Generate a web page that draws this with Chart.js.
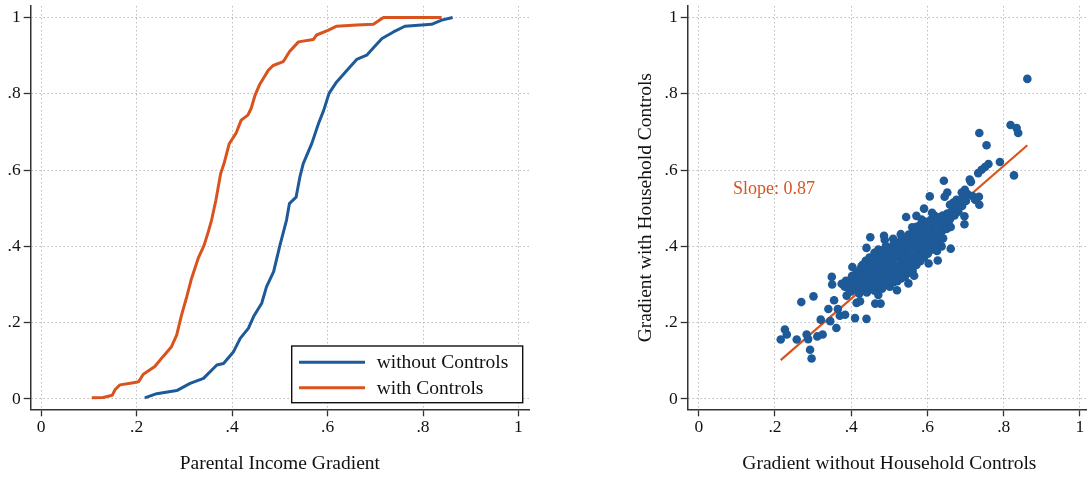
<!DOCTYPE html>
<html>
<head>
<meta charset="utf-8">
<script src="https://cdn.jsdelivr.net/npm/chart.js@4.4.1/dist/chart.umd.min.js"></script>
<style>
  html, body { margin: 0; padding: 0; background: #fff; overflow: hidden; width: 1087px; height: 478px; }
  canvas { position: absolute; top: 0; }
  #cdfChart { left: 0; width: 545px; height: 478px; }
  #scatterChart { left: 600px; width: 500px; height: 478px; }
</style>
</head>
<body>
<canvas id="cdfChart" width="545" height="478"></canvas>
<canvas id="scatterChart" width="500" height="478"></canvas>
<script>
// ---- data ----
const tickValues = [0, 0.2, 0.4, 0.6, 0.8, 1];
const tickLabels = ['0', '.2', '.4', '.6', '.8', '1'];

// cumulative distribution of the gradient, without household controls
const cdfWithoutX = [0.217, 0.242, 0.284, 0.312, 0.340, 0.368, 0.382, 0.403, 0.417, 0.434, 0.445, 0.462, 0.472, 0.487, 0.500,
  0.514, 0.520, 0.534, 0.542, 0.549, 0.567, 0.581, 0.592, 0.603, 0.619, 0.644, 0.661, 0.682, 0.698, 0.714, 0.738, 0.762, 0.818,
  0.839, 0.862];
const cdfWithoutY = [0.003, 0.014, 0.022, 0.041, 0.054, 0.089, 0.093, 0.124, 0.159, 0.185, 0.216, 0.251, 0.294, 0.334, 0.402,
  0.469, 0.512, 0.529, 0.582, 0.617, 0.670, 0.722, 0.757, 0.801, 0.831, 0.866, 0.890, 0.901, 0.923, 0.945, 0.962, 0.977, 0.982,
  0.993, 1.000];

// cumulative distribution of the gradient, with household controls
const cdfWithX = [0.106, 0.130, 0.149, 0.155, 0.165, 0.190, 0.204, 0.214, 0.238, 0.255, 0.273, 0.284, 0.294, 0.305, 0.315, 0.329,
  0.341, 0.350, 0.357, 0.366, 0.376, 0.383, 0.394, 0.408, 0.419, 0.433, 0.440, 0.448, 0.458, 0.476, 0.486, 0.507, 0.520, 0.539,
  0.570, 0.577, 0.602, 0.619, 0.661, 0.696, 0.717, 0.839];
const cdfWithY = [0.003, 0.004, 0.010, 0.025, 0.037, 0.042, 0.045, 0.065, 0.085, 0.111, 0.137, 0.168, 0.220, 0.268, 0.316, 0.369,
  0.402, 0.438, 0.469, 0.521, 0.591, 0.617, 0.669, 0.696, 0.731, 0.744, 0.762, 0.796, 0.825, 0.862, 0.874, 0.884, 0.910, 0.936,
  0.942, 0.954, 0.967, 0.977, 0.980, 0.982, 1.000, 1.000];

// gradient pairs: [without household controls, with household controls]
const gradientPairs = [
  [0.862, 0.839], [0.818, 0.718], [0.834, 0.710], [0.838, 0.697], [0.736, 0.697], [0.755, 0.665], [0.827, 0.586],
  [0.790, 0.621], [0.760, 0.616], [0.751, 0.608], [0.742, 0.601], [0.733, 0.592], [0.711, 0.575], [0.714, 0.569],
  [0.643, 0.572], [0.652, 0.541], [0.645, 0.530], [0.606, 0.531], [0.659, 0.509], [0.690, 0.541], [0.698, 0.548],
  [0.705, 0.537], [0.718, 0.532], [0.725, 0.522], [0.735, 0.530], [0.736, 0.509], [0.696, 0.520], [0.676, 0.522],
  [0.668, 0.515], [0.697, 0.479], [0.697, 0.458], [0.661, 0.394], [0.627, 0.363], [0.591, 0.499], [0.544, 0.477],
  [0.571, 0.480], [0.450, 0.424], [0.486, 0.428], [0.488, 0.417], [0.440, 0.396], [0.403, 0.346], [0.427, 0.348],
  [0.349, 0.320], [0.350, 0.300], [0.301, 0.269], [0.269, 0.254], [0.355, 0.259], [0.340, 0.236], [0.365, 0.236],
  [0.384, 0.221], [0.370, 0.218], [0.410, 0.212], [0.440, 0.210], [0.320, 0.208], [0.345, 0.204], [0.361, 0.186],
  [0.226, 0.182], [0.231, 0.169], [0.215, 0.156], [0.257, 0.156], [0.283, 0.169], [0.287, 0.157], [0.311, 0.164],
  [0.325, 0.169], [0.292, 0.129], [0.296, 0.106], [0.463, 0.250], [0.477, 0.250], [0.471, 0.273], [0.414, 0.252],
  [0.423, 0.256], [0.388, 0.271], [0.392, 0.291], [0.379, 0.300], [0.401, 0.313], [0.414, 0.321], [0.449, 0.330],
  [0.383, 0.294], [0.386, 0.310], [0.375, 0.302], [0.520, 0.285], [0.550, 0.303], [0.565, 0.323], [0.603, 0.355],
  [0.637, 0.400], [0.625, 0.388], [0.510, 0.420], [0.530, 0.432], [0.560, 0.450], [0.585, 0.470], [0.612, 0.488],
  [0.400, 0.282], [0.398, 0.303], [0.402, 0.322], [0.411, 0.288], [0.409, 0.307], [0.412, 0.328],
  [0.421, 0.276], [0.419, 0.297], [0.422, 0.316], [0.420, 0.336], [0.431, 0.289], [0.429, 0.311], [0.432, 0.331], [0.430, 0.352],
  [0.441, 0.279], [0.439, 0.300], [0.442, 0.321], [0.440, 0.341], [0.438, 0.362],
  [0.451, 0.291], [0.449, 0.309], [0.452, 0.332], [0.450, 0.351], [0.448, 0.371],
  [0.461, 0.284], [0.459, 0.306], [0.462, 0.324], [0.460, 0.346], [0.458, 0.366], [0.461, 0.383],
  [0.471, 0.296], [0.469, 0.314], [0.472, 0.336], [0.470, 0.356], [0.468, 0.374], [0.471, 0.392],
  [0.481, 0.289], [0.479, 0.311], [0.482, 0.329], [0.480, 0.351], [0.478, 0.371], [0.481, 0.389],
  [0.491, 0.301], [0.489, 0.319], [0.492, 0.341], [0.490, 0.361], [0.488, 0.379], [0.491, 0.401],
  [0.501, 0.294], [0.499, 0.316], [0.502, 0.334], [0.500, 0.356], [0.498, 0.376], [0.501, 0.394],
  [0.511, 0.306], [0.509, 0.324], [0.512, 0.346], [0.510, 0.366], [0.508, 0.384], [0.511, 0.406],
  [0.521, 0.309], [0.519, 0.331], [0.522, 0.349], [0.520, 0.371], [0.518, 0.391], [0.521, 0.409],
  [0.531, 0.316], [0.529, 0.334], [0.532, 0.356], [0.530, 0.376], [0.528, 0.394], [0.531, 0.416],
  [0.541, 0.321], [0.539, 0.341], [0.542, 0.359], [0.540, 0.381], [0.538, 0.401], [0.541, 0.419],
  [0.551, 0.331], [0.549, 0.349], [0.552, 0.371], [0.550, 0.391], [0.548, 0.409], [0.551, 0.431],
  [0.561, 0.336], [0.559, 0.356], [0.562, 0.374], [0.560, 0.396], [0.558, 0.416], [0.561, 0.434],
  [0.571, 0.351], [0.569, 0.369], [0.572, 0.391], [0.570, 0.411], [0.568, 0.429], [0.571, 0.451],
  [0.581, 0.361], [0.579, 0.381], [0.582, 0.399], [0.580, 0.421], [0.578, 0.441], [0.581, 0.456],
  [0.591, 0.371], [0.589, 0.389], [0.592, 0.411], [0.590, 0.431], [0.588, 0.449], [0.591, 0.466],
  [0.601, 0.381], [0.599, 0.401], [0.602, 0.419], [0.600, 0.441], [0.598, 0.461],
  [0.611, 0.391], [0.609, 0.409], [0.612, 0.431], [0.610, 0.451], [0.608, 0.469],
  [0.621, 0.401], [0.619, 0.421], [0.622, 0.439], [0.620, 0.461], [0.618, 0.481],
  [0.631, 0.416], [0.629, 0.434], [0.632, 0.456], [0.630, 0.476], [0.641, 0.421], [0.639, 0.441], [0.642, 0.459], [0.640, 0.481],
  [0.651, 0.446], [0.649, 0.464], [0.652, 0.486], [0.661, 0.451], [0.659, 0.471], [0.662, 0.489],
  [0.671, 0.481], [0.669, 0.499], [0.681, 0.491], [0.679, 0.511], [0.691, 0.506], [0.689, 0.524], [0.701, 0.519], [0.699, 0.536]
];

// fitted line (slope 0.87) over the range of the data
const fitLine = [[0.215, 0.102], [0.862, 0.665]];
const slopeText = 'Slope: 0.87';
const slopeLabelAt = { x: 0.09, y: 0.55 };

// ---- styling ----
const BLUE = '#1e5a97';
const ORANGE = '#d9531e';
const INK = '#111';
const FONT = "'Liberation Serif', 'Times New Roman', serif";

function makeAxis(min, max, isX, fitSize, title, titlePadding) {
  return {
    type: 'linear',
    min: min,
    max: max,
    afterBuildTicks(scale) { scale.ticks = tickValues.map(v => ({ value: v })); },
    afterFit(scale) {
      if (isX) scale.height = fitSize; else scale.width = fitSize;
      scale.paddingTop = 0; scale.paddingBottom = 0; scale.paddingLeft = 0; scale.paddingRight = 0;
    },
    ticks: {
      callback: v => tickLabels[tickValues.indexOf(v)],
      font: { family: FONT, size: 17.5 },
      color: INK,
      padding: isX ? 1 : 3,
      autoSkip: false,
      maxRotation: 0,
      minRotation: 0
    },
    grid: {
      color: '#bdbdbd',
      lineWidth: 1,
      drawTicks: true,
      tickLength: 7,
      tickColor: '#333',
      tickWidth: 1.3
    },
    border: { display: true, color: '#333', width: 1.5, dash: [1.5, 2.5] },
    title: {
      display: !!title,
      text: title || '',
      font: { family: FONT, size: 19.5 },
      color: INK,
      padding: titlePadding
    }
  };
}

function toPoints(xs, ys) { return xs.map((x, i) => ({ x: x, y: ys[i] })); }

// legend box drawn inside the lower-right corner of the plot
const boxLegend = {
  id: 'boxLegend',
  afterDatasetsDraw(chart) {
    const { ctx, chartArea } = chart;
    const w = 231, h = 56.7;
    const left = chartArea.right - 6.3 - w;
    const top = chartArea.bottom - 6.6 - h;
    ctx.save();
    ctx.fillStyle = '#fff';
    ctx.fillRect(left, top, w, h);
    ctx.strokeStyle = '#111';
    ctx.lineWidth = 1.4;
    ctx.strokeRect(left, top, w, h);
    ctx.font = `19.5px ${FONT}`;
    ctx.textBaseline = 'middle';
    ctx.textAlign = 'left';
    chart.data.datasets.forEach((ds, i) => {
      const y = top + 16.3 + i * 25.4;
      ctx.strokeStyle = ds.borderColor;
      ctx.lineWidth = 3;
      ctx.beginPath();
      ctx.moveTo(left + 7.3, y);
      ctx.lineTo(left + 73.3, y);
      ctx.stroke();
      ctx.fillStyle = INK;
      ctx.fillText(ds.label, left + 85, y + 1);
    });
    ctx.restore();
  }
};

// slope annotation placed at data coordinates
const slopeLabel = {
  id: 'slopeLabel',
  afterDatasetsDraw(chart) {
    const { ctx, scales } = chart;
    ctx.save();
    ctx.font = `18px ${FONT}`;
    ctx.fillStyle = ORANGE;
    ctx.textAlign = 'left';
    ctx.textBaseline = 'middle';
    ctx.fillText(slopeText, scales.x.getPixelForValue(slopeLabelAt.x), scales.y.getPixelForValue(slopeLabelAt.y));
    ctx.restore();
  }
};

const common = {
  responsive: false,
  animation: false,
  events: [],
  plugins: { legend: { display: false }, tooltip: { enabled: false } }
};

// left panel: cumulative distributions
new Chart(document.getElementById('cdfChart'), {
  type: 'scatter',
  data: {
    datasets: [
      { label: 'without Controls', data: toPoints(cdfWithoutX, cdfWithoutY), showLine: true, borderColor: BLUE,
        borderWidth: 3, pointRadius: 0, tension: 0, borderJoinStyle: 'round', borderCapStyle: 'butt' },
      { label: 'with Controls', data: toPoints(cdfWithX, cdfWithY), showLine: true, borderColor: ORANGE,
        borderWidth: 3, pointRadius: 0, tension: 0, borderJoinStyle: 'round', borderCapStyle: 'butt' }
    ]
  },
  options: Object.assign({}, common, {
    layout: { padding: { top: 6, right: 16, left: 0, bottom: 0 } },
    scales: {
      x: makeAxis(-0.022, 1.022, true, 68.7, 'Parental Income Gradient', { top: 0, bottom: 2.3 }),
      y: makeAxis(-0.027, 1.03, false, 30.7, null, 0)
    }
  }),
  plugins: [boxLegend]
});

// right panel: gradient with vs. without household controls
new Chart(document.getElementById('scatterChart'), {
  type: 'scatter',
  data: {
    datasets: [
      { label: 'Gradient', data: gradientPairs.map(p => ({ x: p[0], y: p[1] })), backgroundColor: BLUE,
        borderWidth: 0, pointRadius: 4.3, order: 0 },
      { label: 'Linear fit', data: fitLine.map(p => ({ x: p[0], y: p[1] })), showLine: true, borderColor: ORANGE,
        borderWidth: 2.2, pointRadius: 0, order: 1 }
    ]
  },
  options: Object.assign({}, common, {
    layout: { padding: { top: 6, right: 9, left: 0, bottom: 0 } },
    scales: {
      x: makeAxis(-0.029, 1.029, true, 68.7, 'Gradient without Household Controls', { top: 0, bottom: 2.3 }),
      y: makeAxis(-0.027, 1.03, false, 87.7, 'Gradient with Household Controls', { top: 33.8, bottom: 0 })
    }
  }),
  plugins: [slopeLabel]
});
</script>
</body>
</html>
